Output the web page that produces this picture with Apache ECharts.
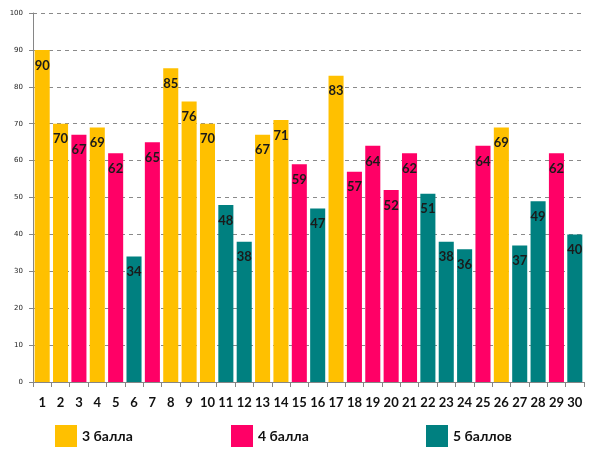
<!DOCTYPE html>
<html>
<head>
<meta charset="utf-8">
<script src="https://cdn.jsdelivr.net/npm/echarts@6/dist/echarts.min.js"></script>
<style>
  html, body { margin: 0; padding: 0; background: #fff; }
  #chart { width: 591px; height: 456px; }
</style>
</head>
<body>
<div id="chart"></div>
<script>
// номера учеников
const categories = ['1','2','3','4','5','6','7','8','9','10','11','12','13','14','15',
  '16','17','18','19','20','21','22','23','24','25','26','27','28','29','30'];

// баллы по группам оценок ('-' = нет столбца)
const grade3 = [90, 70, '-', 69, '-', '-', '-', 85, 76, 70, '-', '-', 67, 71, '-',
  '-', 83, '-', '-', '-', '-', '-', '-', '-', '-', 69, '-', '-', '-', '-'];
const grade4 = ['-', '-', 67, '-', 62, '-', 65, '-', '-', '-', '-', '-', '-', '-', 59,
  '-', '-', 57, 64, 52, 62, '-', '-', '-', 64, '-', '-', '-', 62, '-'];
const grade5 = ['-', '-', '-', '-', '-', 34, '-', '-', '-', '-', 48, 38, '-', '-', '-',
  47, '-', '-', '-', '-', '-', 51, 38, 36, '-', '-', 37, 49, '-', 40];

const seriesNames = ['3 балла', '4 балла', '5 баллов'];
const colors = ['#FFC000', '#FF0066', '#008080'];

const chart = echarts.init(document.getElementById('chart'));

const barLabel = {
  show: true,
  position: 'insideTop',
  distance: 9,
  color: '#1a1a1a',
  fontSize: 13,
  fontWeight: 'bold',
  fontFamily: 'Lato'
};

const legendText = {
  color: '#111',
  fontSize: 14,
  fontWeight: 'bold',
  fontFamily: 'Lato'
};

const makeLegend = (name, left) => ({
  data: [name],
  left: left,
  top: 420,
  icon: 'rect',
  itemWidth: 22,
  itemHeight: 22,
  itemGap: 0,
  textStyle: legendText,
  selectedMode: false
});

chart.setOption({
  animation: false,
  color: colors,
  grid: { left: 33, right: 7, top: 13, bottom: 74 },
  legend: [
    makeLegend(seriesNames[0], 50),
    makeLegend(seriesNames[1], 226),
    makeLegend(seriesNames[2], 421)
  ],
  xAxis: {
    type: 'category',
    data: categories,
    axisLine: { lineStyle: { color: '#868686', width: 1 } },
    axisTick: { show: true, length: 5, lineStyle: { color: '#868686' } },
    axisLabel: {
      color: '#111',
      fontSize: 13,
      fontWeight: 'bold',
      fontFamily: 'Lato',
      margin: 14,
      interval: 0
    }
  },
  yAxis: {
    type: 'value',
    min: 0,
    max: 100,
    interval: 10,
    axisLine: { show: true, lineStyle: { color: '#868686', width: 1 } },
    axisTick: { show: true, length: 4, lineStyle: { color: '#868686' } },
    axisLabel: {
      color: '#222',
      fontSize: 7,
      fontFamily: 'DejaVu Sans',
      margin: 10
    },
    splitLine: {
      show: true,
      lineStyle: { color: '#8a8a8a', type: [4, 4], width: 1 }
    }
  },
  series: [
    { name: seriesNames[0], type: 'bar', stack: 'all', data: grade3, label: barLabel, barCategoryGap: '18%' },
    { name: seriesNames[1], type: 'bar', stack: 'all', data: grade4, label: barLabel },
    { name: seriesNames[2], type: 'bar', stack: 'all', data: grade5, label: barLabel }
  ]
});
</script>
</body>
</html>
